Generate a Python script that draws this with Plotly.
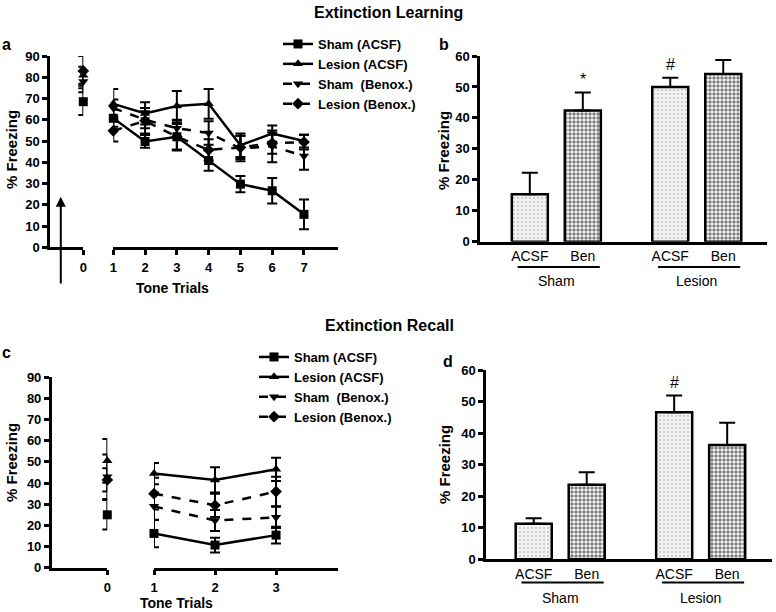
import plotly.graph_objects as go

W, H = 776, 612
def fx(p): return p / W
def fy(p): return 1 - p / H

FONT = "Liberation Sans, Arial, sans-serif"

# ---------------- data ----------------
series = ["Sham (ACSF)", "Lesion (ACSF)", "Sham  (Benox.)", "Lesion (Benox.)"]
symbols = ["square", "triangle-up", "triangle-down", "diamond"]
dashes = ["solid", "solid", "dash", "dash"]

# Extinction learning (panel a)
learn_pre_trial = [0]
learn_trials = [1, 2, 3, 4, 5, 6, 7]
learn_pre = [68.5, 81.0, 78.0, 83.0]
learn_pre_err = [6.3, 4.0, 5.0, 7.0]
learn_sham_acsf = [60.7, 49.8, 52.0, 40.8, 29.7, 26.6, 15.5]
learn_sham_acsf_err = [4.0, 3.0, 6.0, 4.8, 3.8, 6.0, 7.0]
learn_lesion_acsf = [67.5, 63.0, 66.5, 67.5, 48.0, 53.5, 50.0]
learn_lesion_acsf_err = [7.0, 5.2, 7.0, 7.0, 5.5, 3.8, 3.0]
learn_sham_benox = [65.5, 60.0, 56.0, 53.8, 46.5, 47.5, 43.0]
learn_sham_benox_err = [4.0, 4.0, 4.0, 5.5, 6.0, 7.5, 6.5]
learn_lesion_benox = [54.8, 59.5, 52.0, 45.8, 47.0, 49.0, 49.5]
learn_lesion_benox_err = [5.0, 6.0, 6.5, 5.0, 5.5, 5.0, 3.5]

# Extinction recall (panel c)
recall_pre_trial = [0]
recall_trials = [1, 2, 3]
recall_pre = [25.0, 50.5, 43.0, 41.5]
recall_pre_err = [7.0, 10.3, 10.5, 5.5]
recall_sham_acsf = [16.2, 10.7, 15.4]
recall_sham_acsf_err = [6.5, 3.5, 4.0]
recall_lesion_acsf = [44.5, 41.5, 46.5]
recall_lesion_acsf_err = [5.0, 6.0, 5.5]
recall_sham_benox = [29.0, 22.3, 23.8]
recall_sham_benox_err = [6.5, 5.0, 5.0]
recall_lesion_benox = [35.0, 29.5, 36.0]
recall_lesion_benox_err = [7.5, 5.5, 7.0]

# Bar panels (b, d)
groups = ["Sham", "Lesion"]
treatments = ["ACSF", "Ben"]
learn_bar = [15.3, 42.4, 50.0, 54.2]
learn_bar_err = [7.0, 5.8, 3.0, 4.5]
learn_sig = ["", "*", "#", ""]
recall_bar = [11.3, 23.6, 46.6, 36.2]
recall_bar_err = [1.7, 4.0, 5.3, 7.1]
recall_sig = ["", "", "#", ""]

# ---------------- figure ----------------
fig = go.Figure()

def add_line_panel(xl, xr, yax, pre_trial, pre, pre_err, trials, ys, errs, legend):
    for i, name in enumerate(series):
        fig.add_trace(go.Scatter(
            x=pre_trial, y=[pre[i]], xaxis=xl, yaxis=yax, mode="markers",
            marker=dict(symbol=symbols[i], size=9, color="black"),
            error_y=dict(type="data", array=[pre_err[i]], color="black", thickness=2, width=5),
            cliponaxis=False, showlegend=False, hoverinfo="skip"))
        fig.add_trace(go.Scatter(
            x=trials, y=ys[i], xaxis=xr, yaxis=yax, mode="lines+markers", name=name,
            line=dict(color="black", width=2.5, dash=dashes[i]),
            marker=dict(symbol=symbols[i], size=9, color="black"),
            error_y=dict(type="data", array=errs[i], color="black", thickness=2, width=5),
            cliponaxis=False, legend=legend))

add_line_panel("x", "x2", "y", learn_pre_trial, learn_pre, learn_pre_err, learn_trials,
               [learn_sham_acsf, learn_lesion_acsf, learn_sham_benox, learn_lesion_benox],
               [learn_sham_acsf_err, learn_lesion_acsf_err, learn_sham_benox_err, learn_lesion_benox_err],
               "legend")
add_line_panel("x4", "x5", "y3", recall_pre_trial, recall_pre, recall_pre_err, recall_trials,
               [recall_sham_acsf, recall_lesion_acsf, recall_sham_benox, recall_lesion_benox],
               [recall_sham_acsf_err, recall_lesion_acsf_err, recall_sham_benox_err, recall_lesion_benox_err],
               "legend2")

GAP = 2.65
bar_pos = [g * GAP + t for g in range(len(groups)) for t in range(len(treatments))]
bar_labels = [t for g in groups for t in treatments]
acsf_pat = dict(shape=".", fgcolor="#8a8a8a", bgcolor="#f2f2f2", size=4, solidity=0.18)
ben_pat = dict(shape=".", fgcolor="black", bgcolor="white", size=4, solidity=0.6)
patterns = [acsf_pat if t == "ACSF" else ben_pat for g in groups for t in treatments]

def add_bar_panel(xa, ya, vals, errs):
    fig.add_trace(go.Bar(
        x=bar_pos, y=vals, xaxis=xa, yaxis=ya, width=0.68, showlegend=False,
        marker=dict(color="white", line=dict(color="black", width=2.5), pattern=dict(
            shape=[p["shape"] for p in patterns], fgcolor=[p["fgcolor"] for p in patterns],
            bgcolor=[p["bgcolor"] for p in patterns], size=[p["size"] for p in patterns],
            solidity=[p["solidity"] for p in patterns])),
        error_y=dict(type="data", symmetric=False, array=errs, arrayminus=[0] * len(errs),
                     color="black", thickness=2, width=8)))

add_bar_panel("x3", "y2", learn_bar, learn_bar_err)
add_bar_panel("x6", "y4", recall_bar, recall_bar_err)

tickfont = dict(family=FONT, size=13, color="black", weight="bold")
common = dict(showline=True, linecolor="black", linewidth=2.5, ticks="outside",
              tickwidth=2.5, ticklen=5, tickcolor="black", showgrid=False, zeroline=False,
              tickfont=tickfont, fixedrange=True, automargin=False)
xline = dict(common, ticklabelstandoff=1)
xbar = dict(common, ticks="", ticklabelstandoff=0,
            tickfont=dict(family=FONT, size=14, color="black"))

layout = dict(
    width=W, height=H, margin=dict(l=0, r=0, t=0, b=0, autoexpand=False),
    paper_bgcolor="white", plot_bgcolor="rgba(0,0,0,0)",
    font=dict(family=FONT, color="black"),
    # panel a
    xaxis=dict(domain=[fx(50), fx(83.3)], range=[-1.05, 0], anchor="y", tickvals=learn_pre_trial, **xline),
    xaxis2=dict(domain=[fx(113.3), fx(338)], range=[1, 8.07], anchor="y", tickvals=learn_trials, **xline),
    yaxis=dict(domain=[fy(247.3), fy(56)], range=[0, 90], anchor="x", dtick=10, **common),
    # panel b
    xaxis3=dict(domain=[fx(480), fx(766.7)], range=[-0.94, 4.47], anchor="y2",
                tickvals=bar_pos, ticktext=bar_labels, **xbar),
    yaxis2=dict(domain=[fy(241.7), fy(56)], range=[0, 60], anchor="x3", dtick=10, **common),
    # panel c
    xaxis4=dict(domain=[fx(51.7), fx(107.3)], range=[-0.91, 0], anchor="y3", tickvals=recall_pre_trial, **xline),
    xaxis5=dict(domain=[fx(154), fx(338.3)], range=[1, 4.02], anchor="y3", tickvals=recall_trials, **xline),
    yaxis3=dict(domain=[fy(567.7), fy(377.3)], range=[0, 90], anchor="x4", dtick=10, **common),
    # panel d
    xaxis6=dict(domain=[fx(486), fx(771.7)], range=[-0.9, 4.49], anchor="y4",
                tickvals=bar_pos, ticktext=bar_labels, **xbar),
    yaxis4=dict(domain=[fy(559.3), fy(370)], range=[0, 60], anchor="x6", dtick=10, **common),
    legend=dict(x=fx(278), y=fy(29), xanchor="left", yanchor="top", bgcolor="rgba(0,0,0,0)",
                font=dict(family=FONT, size=13, color="black", weight="bold"), itemwidth=30),
    legend2=dict(x=fx(254), y=fy(342), xanchor="left", yanchor="top", bgcolor="rgba(0,0,0,0)",
                 font=dict(family=FONT, size=13, color="black", weight="bold"), itemwidth=30),
)
fig.update_layout(**layout)

ann = []
def text(x, y, s, size=15, bold=True, **kw):
    ann.append(dict(x=fx(x), y=fy(y), xref="paper", yref="paper", text=s, showarrow=False,
                    xanchor="center", yanchor="middle",
                    font=dict(family=FONT, size=size, color="black", weight="bold" if bold else "normal"), **kw))

text(388, 12, "Extinction Learning", size=16)
text(389, 325, "Extinction Recall", size=16)
text(7, 45, "a", size=16)
text(444, 45, "b", size=16)
text(7, 353, "c", size=16)
text(448, 361, "d", size=16)
text(11, 150, "% Freezing", textangle=-90)
text(443, 151, "% Freezing", textangle=-90)
text(11, 463, "% Freezing", textangle=-90)
text(444, 465, "% Freezing", textangle=-90)
text(172, 288, "Tone Trials", size=14)
text(176, 602.5, "Tone Trials", size=14)

# arrow in panel a
ann.append(dict(x=-0.71, y=23.8, xref="x", yref="y", ax=-0.71, ay=-17.7, axref="x", ayref="y",
                showarrow=True, arrowhead=2, arrowsize=1, arrowwidth=2, arrowcolor="black", text=""))

# significance marks and group labels / underlines for bar panels
shapes = []
for xa, ya, vals, errs, sig, ybar_line, ygrp in [("x3", "y2", learn_bar, learn_bar_err, learn_sig, 267, 281),
                                                   ("x6", "y4", recall_bar, recall_bar_err, recall_sig, 582.5, 598)]:
    for p, v, e, s in zip(bar_pos, vals, errs, sig):
        if s:
            ann.append(dict(x=p, y=v + e, xref=xa, yref=ya, text=s, showarrow=False, yanchor="bottom",
                            yshift=3, font=dict(family=FONT, size=16, color="black")))
    for g, name in enumerate(groups):
        x0 = bar_pos[g * 2] - 0.23
        x1 = bar_pos[g * 2 + 1] + 0.32
        shapes.append(dict(type="line", xref=xa, yref="paper", x0=x0, x1=x1,
                           y0=fy(ybar_line), y1=fy(ybar_line), line=dict(color="black", width=2)))
        ann.append(dict(x=(bar_pos[g * 2] + bar_pos[g * 2 + 1]) / 2, y=fy(ygrp), xref=xa, yref="paper",
                        text=name, showarrow=False, xanchor="center", yanchor="middle",
                        font=dict(family=FONT, size=14, color="black")))

fig.update_layout(annotations=ann, shapes=shapes)
fig.write_html("out.html", config={"displayModeBar": False},
               post_script="document.body.style.margin='0';")
